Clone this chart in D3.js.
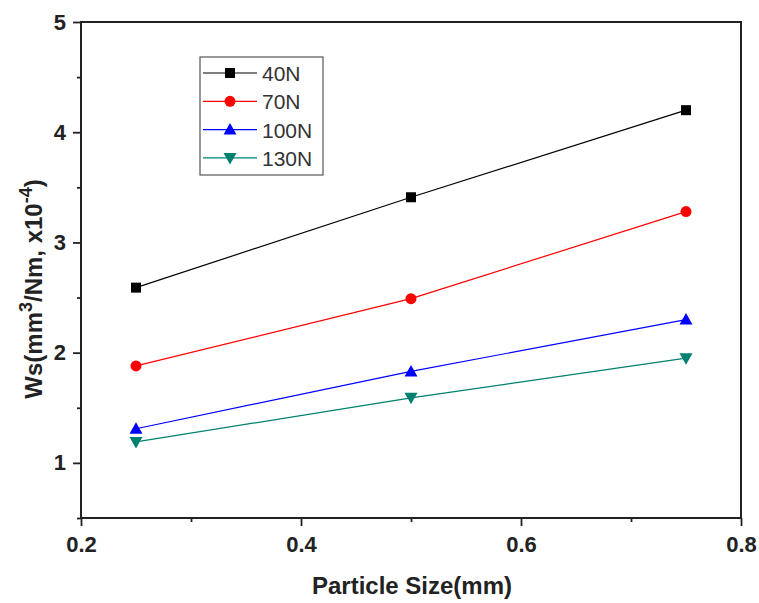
<!DOCTYPE html>
<html>
<head>
<meta charset="utf-8">
<script src="https://cdn.jsdelivr.net/npm/d3@7"></script>
<style>
  html, body { margin: 0; padding: 0; background: #fff; }
  svg { display: block; }
</style>
</head>
<body>
<svg id="chart" width="759" height="603"></svg>
<script>
const xValues = [0.25, 0.5, 0.75];
const series40N = [2.59, 3.41, 4.20];
const series70N = [1.88, 2.49, 3.28];
const series100N = [1.31, 1.83, 2.30];
const series130N = [1.19, 1.59, 1.95];
const seriesNames = ["40N", "70N", "100N", "130N"];
const xTickValues = [0.2, 0.4, 0.6, 0.8];
const xMinorTicks = [0.3, 0.5, 0.7];
const yTickValues = [1, 2, 3, 4, 5];
const yMinorTicks = [0.5, 1.5, 2.5, 3.5, 4.5];
const xTitle = "Particle Size(mm)";

const colors = ["#000000", "#ff0000", "#0000ff", "#008070"];
const shapes = ["square", "circle", "triangleUp", "triangleDown"];
const allSeries = [series40N, series70N, series100N, series130N];

const svg = d3.select("#chart");
const pL = 81, pR = 741, pT = 22, pB = 518;
const x = d3.scaleLinear().domain([0.2, 0.8]).range([pL, pR]);
const y = d3.scaleLinear().domain([0.5, 5]).range([pB, pT]);

const font = "'Liberation Sans', Arial, sans-serif";

// axes
const gx = svg.append("g").attr("transform", `translate(0,${pB})`)
  .call(d3.axisBottom(x).tickValues(xTickValues).tickSize(8).tickPadding(10).tickFormat(d3.format(".1f")));
const gxm = svg.append("g").attr("transform", `translate(0,${pB})`)
  .call(d3.axisBottom(x).tickValues(xMinorTicks).tickSize(4).tickFormat(""));
const gy = svg.append("g").attr("transform", `translate(${pL},0)`)
  .call(d3.axisLeft(y).tickValues(yTickValues).tickSize(8).tickPadding(7).tickFormat(d3.format("d")));
const gym = svg.append("g").attr("transform", `translate(${pL},0)`)
  .call(d3.axisLeft(y).tickValues(yMinorTicks).tickSize(4).tickFormat(""));

[gx, gxm, gy, gym].forEach(g => {
  g.select(".domain").remove();
  g.selectAll(".tick line").attr("stroke", "#222").attr("stroke-width", 1.8);
  g.selectAll("text").attr("font-family", font).attr("font-weight", "bold")
    .attr("font-size", 22).attr("fill", "#222");
});

// frame
svg.append("rect").attr("x", pL).attr("y", pT)
  .attr("width", pR - pL).attr("height", pB - pT)
  .attr("fill", "none").attr("stroke", "#222").attr("stroke-width", 2);

// titles
svg.append("text").attr("x", (pL + pR) / 2 + 1).attr("y", 594)
  .attr("text-anchor", "middle").attr("font-family", font).attr("font-weight", "bold")
  .attr("font-size", 24).attr("fill", "#222").text(xTitle);

const yt = svg.append("text").attr("transform", "translate(42,289) rotate(-90)")
  .attr("text-anchor", "middle").attr("font-family", font).attr("font-weight", "bold")
  .attr("font-size", 24).attr("fill", "#222");
yt.append("tspan").text("Ws(mm");
yt.append("tspan").attr("dy", -10).attr("font-size", 18).text("3");
yt.append("tspan").attr("dy", 10).text("/Nm, x10");
yt.append("tspan").attr("dy", -10).attr("font-size", 18).text("-4");
yt.append("tspan").attr("dy", 10).text(")");

function drawMarker(g, shape, cx, cy, color) {
  if (shape === "square") {
    g.append("rect").attr("x", cx - 5).attr("y", cy - 5).attr("width", 10).attr("height", 10).attr("fill", color);
  } else if (shape === "circle") {
    g.append("circle").attr("cx", cx).attr("cy", cy).attr("r", 5.5).attr("fill", color);
  } else if (shape === "triangleUp") {
    g.append("path").attr("d", `M${cx},${cy - 6.5}L${cx + 6.5},${cy + 5}L${cx - 6.5},${cy + 5}Z`).attr("fill", color);
  } else {
    g.append("path").attr("d", `M${cx},${cy + 6.5}L${cx + 6.5},${cy - 5}L${cx - 6.5},${cy - 5}Z`).attr("fill", color);
  }
}

const line = d3.line().x((d, i) => x(xValues[i])).y(d => y(d));
allSeries.forEach((s, k) => {
  const g = svg.append("g");
  g.append("path").attr("d", line(s)).attr("fill", "none").attr("stroke", colors[k]).attr("stroke-width", 1.2);
  s.forEach((v, i) => drawMarker(g, shapes[k], x(xValues[i]), y(v), colors[k]));
});

// legend
const lg = svg.append("g");
lg.append("rect").attr("x", 200).attr("y", 57).attr("width", 123).attr("height", 118)
  .attr("fill", "#fff").attr("stroke", "#555").attr("stroke-width", 1.2);
seriesNames.forEach((name, k) => {
  const ly = 73 + k * 28.3;
  lg.append("line").attr("x1", 203).attr("x2", 257).attr("y1", ly).attr("y2", ly)
    .attr("stroke", colors[k]).attr("stroke-width", 1.2);
  drawMarker(lg, shapes[k], 230, ly, colors[k]);
  lg.append("text").attr("x", 262).attr("y", ly + 8).attr("font-family", font)
    .attr("font-size", 21).attr("fill", "#333").text(name);
});
</script>
</body>
</html>
